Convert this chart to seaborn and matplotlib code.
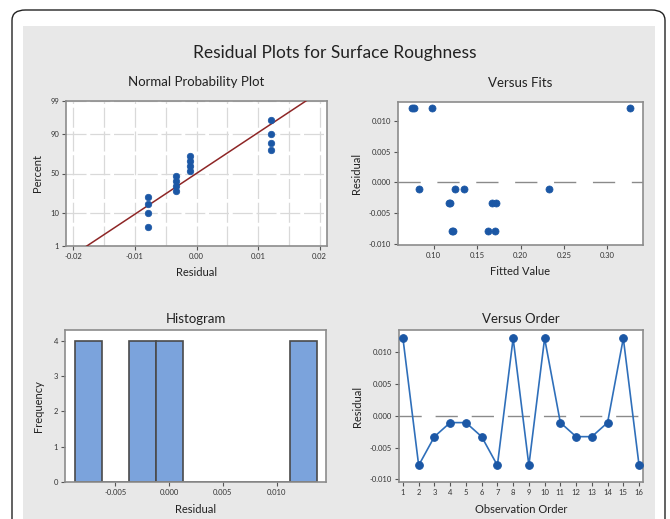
import numpy as np
import pandas as pd
import matplotlib
matplotlib.use("Agg")
import matplotlib.pyplot as plt
from matplotlib.patches import FancyBboxPatch, Rectangle
from matplotlib.ticker import FixedLocator, MultipleLocator
import seaborn as sns
from statistics import NormalDist

# ---------------- data ----------------
observation = list(range(1, 17))
residuals = [0.0121, -0.0078, -0.0033, -0.0011, -0.0011, -0.0033, -0.0078, 0.0121,
             -0.0078, 0.0121, -0.0011, -0.0033, -0.0033, -0.0011, 0.0121, -0.0078]
fitted = [0.0754, 0.1210, 0.1180, 0.0827, 0.1250, 0.1190, 0.1220, 0.0769,
          0.1623, 0.0985, 0.1354, 0.1677, 0.1715, 0.2327, 0.3262, 0.1708]
# plotting positions (percent)
npp_percent = [4.3, 10.4, 16.5, 22.6, 28.7, 34.8, 40.9, 47.0,
               53.0, 59.1, 65.2, 71.3, 77.4, 83.5, 89.6, 95.7]
npp_yticks = [1, 10, 50, 90, 99]
npp_xticks = [-0.02, -0.01, 0.00, 0.01, 0.02]
fits_xticks = [0.10, 0.15, 0.20, 0.25, 0.30]
resid_yticks = [-0.010, -0.005, 0.000, 0.005, 0.010]
hist_xticks = [-0.005, 0.000, 0.005, 0.010]
hist_yticks = [0, 1, 2, 3, 4]

df = pd.DataFrame({"Observation": observation, "Residual": residuals, "Fitted": fitted})

# ---------------- style ----------------
sns.set_theme(style="white")
plt.rcParams["font.family"] = ["Lato", "DejaVu Sans"]
plt.rcParams["axes.edgecolor"] = "#8c8c8c"
plt.rcParams["axes.linewidth"] = 1.2
plt.rcParams["xtick.color"] = "#555555"
plt.rcParams["ytick.color"] = "#555555"

PANEL = "#e8e8e8"
BLUE = "#1b57a5"
LINEBLUE = "#2f6fba"
BAR = "#7ba3dc"
FITRED = "#8e2626"
TXT = "#222222"

W, H = 670, 519
fig = plt.figure(figsize=(W / 100, H / 100), dpi=100)
fig.patch.set_facecolor("white")

# outer rounded frame and grey panel
fig.patches.append(FancyBboxPatch((12 / W, -0.2), (665 - 12) / W, (H - 10) / H + 0.2,
                                  boxstyle="round,pad=0,rounding_size=0.02",
                                  transform=fig.transFigure, facecolor="white",
                                  edgecolor="#222222", linewidth=1.0, zorder=-3))
fig.patches.append(Rectangle((23 / W, 0), (655 - 23) / W, (H - 26) / H,
                             transform=fig.transFigure, facecolor=PANEL,
                             edgecolor="none", zorder=-2))

def box(l, t, r, b):
    return [l / W, (H - b) / H, (r - l) / W, (b - t) / H]

ax1 = fig.add_axes(box(66, 101, 327, 246))
ax2 = fig.add_axes(box(398, 102, 643, 245))
ax3 = fig.add_axes(box(65, 330, 326, 482))
ax4 = fig.add_axes(box(399, 330, 643, 482))

fig.suptitle("Residual Plots for Surface Roughness", y=1 - 45 / H, fontsize=12.5,
             color=TXT)

TICKFS = 5.5
LABFS = 8
TITFS = 9.5

def style_axes(ax):
    ax.set_facecolor("white")
    ax.tick_params(axis="both", which="major", length=3, width=0.8, direction="out",
                   labelsize=TICKFS, pad=2, bottom=True, left=True, colors="#555555",
                   labelcolor="#333333")
    for s in ax.spines.values():
        s.set_color("#8c8c8c")

# ---------- Normal probability plot ----------
nd = NormalDist()
_ppf = np.vectorize(lambda v: nd.inv_cdf(v / 100.0), otypes=[float])
_cdf = np.vectorize(lambda v: nd.cdf(v) * 100.0, otypes=[float])

def fwd(p):
    p = np.clip(np.asarray(p, dtype=float), 1e-6, 100 - 1e-6)
    return _ppf(p)

def inv(z):
    return _cdf(np.asarray(z, dtype=float))

ax1.set_yscale("function", functions=(fwd, inv))
res_sorted = sorted(residuals)
mu = float(np.mean(residuals))
sd = float(np.std(residuals, ddof=1))
line_p = [0.5, 99.5]
line_x = [mu + sd * nd.inv_cdf(p / 100.0) for p in line_p]
ax1.plot(line_x, line_p, color=FITRED, linewidth=1.1, zorder=3)
sns.scatterplot(x=res_sorted, y=npp_percent, ax=ax1, color=BLUE, s=22,
                edgecolor=BLUE, linewidth=0.5, zorder=4)
ax1.set_xlim(-0.0212, 0.0212)
ax1.set_ylim(1, 99)
ax1.yaxis.set_major_locator(FixedLocator(npp_yticks))
ax1.set_yticklabels([str(v) for v in npp_yticks])
ax1.yaxis.set_minor_locator(FixedLocator([]))
ax1.xaxis.set_major_locator(FixedLocator(npp_xticks))
ax1.set_xticklabels(["-0.02", "-0.01", "0.00", "0.01", "0.02"])
ax1.xaxis.set_minor_locator(MultipleLocator(0.005))
ax1.grid(True, which="both", axis="x", color="#d9d9d9", linewidth=0.9,
         linestyle=(0, (16, 3)))
ax1.grid(True, which="major", axis="y", color="#d9d9d9", linewidth=0.9,
         linestyle=(0, (16, 3)))
ax1.set_axisbelow(True)
style_axes(ax1)
ax1.tick_params(which="minor", length=0)
ax1.set_title("Normal Probability Plot", fontsize=TITFS, pad=11, color=TXT)
ax1.set_xlabel("Residual", fontsize=LABFS, labelpad=5, color=TXT)
ax1.set_ylabel("Percent", fontsize=LABFS, labelpad=5, color=TXT)

# ---------- Versus fits ----------
ax2.axhline(0, color="#8a8a8a", linewidth=1.0, linestyle=(0, (16, 12)), zorder=1)
sns.scatterplot(data=df, x="Fitted", y="Residual", ax=ax2, color=BLUE, s=26,
                edgecolor=BLUE, linewidth=0.5, zorder=3)
ax2.set_xlim(0.059, 0.341)
ax2.set_ylim(-0.0101, 0.0130)
ax2.xaxis.set_major_locator(FixedLocator(fits_xticks))
ax2.set_xticklabels([f"{v:.2f}" for v in fits_xticks])
ax2.yaxis.set_major_locator(FixedLocator(resid_yticks))
ax2.set_yticklabels([f"{v:.3f}" for v in resid_yticks])
style_axes(ax2)
ax2.set_title("Versus Fits", fontsize=TITFS, pad=11, color=TXT)
ax2.set_xlabel("Fitted Value", fontsize=LABFS, labelpad=5, color=TXT)
ax2.set_ylabel("Residual", fontsize=LABFS, labelpad=5, color=TXT)

# ---------- Histogram ----------
sns.histplot(data=df, x="Residual", ax=ax3, binwidth=0.0025,
             binrange=(-0.00875, 0.01375), color=BAR, alpha=1.0,
             edgecolor="#4a4a4a", linewidth=1.2)
ax3.set_xlim(-0.0097, 0.0146)
ax3.set_ylim(0, 4.3)
ax3.xaxis.set_major_locator(FixedLocator(hist_xticks))
ax3.set_xticklabels([f"{v:.3f}" for v in hist_xticks])
ax3.yaxis.set_major_locator(FixedLocator(hist_yticks))
ax3.set_yticklabels([str(v) for v in hist_yticks])
style_axes(ax3)
ax3.set_title("Histogram", fontsize=TITFS, pad=5, color=TXT)
ax3.set_xlabel("Residual", fontsize=LABFS, labelpad=6, color=TXT)
ax3.set_ylabel("Frequency", fontsize=LABFS, labelpad=7, color=TXT)

# ---------- Versus order ----------
ax4.axhline(0, color="#8a8a8a", linewidth=1.0, linestyle=(0, (16, 10)), zorder=1)
sns.lineplot(data=df, x="Observation", y="Residual", ax=ax4, color=LINEBLUE,
             linewidth=1.2, marker="o", markersize=5.5, markerfacecolor=BLUE,
             markeredgecolor=BLUE, zorder=3)
ax4.set_xlim(0.75, 16.25)
ax4.set_ylim(-0.0104, 0.0134)
ax4.xaxis.set_major_locator(FixedLocator(observation))
ax4.set_xticklabels([str(v) for v in observation])
ax4.yaxis.set_major_locator(FixedLocator(resid_yticks))
ax4.set_yticklabels([f"{v:.3f}" for v in resid_yticks])
style_axes(ax4)
ax4.set_title("Versus Order", fontsize=TITFS, pad=5, color=TXT)
ax4.set_xlabel("Observation Order", fontsize=LABFS, labelpad=6, color=TXT)
ax4.set_ylabel("Residual", fontsize=LABFS, labelpad=5, color=TXT)

fig.savefig("out.png", dpi=100, facecolor="white")
